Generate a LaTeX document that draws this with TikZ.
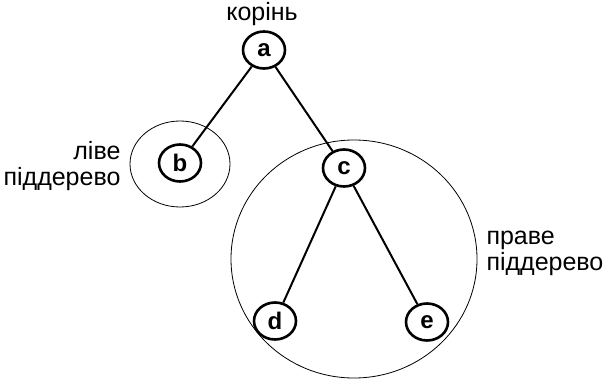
\documentclass[tikz,border=0pt]{standalone}
\usepackage{fontspec}
\setmainfont{Liberation Sans}
\usetikzlibrary{shapes.geometric}

\begin{document}
\begin{tikzpicture}[
  x=1pt, y=-1pt,
  font=\fontsize{25}{26}\selectfont,
  vertex/.style={ellipse, inner sep=0pt, minimum width=42pt, minimum height=37pt, draw=black, line width=2.6pt, font=\fontsize{24}{26}\selectfont\bfseries},
  edge/.style={line width=2pt},
  subtree/.style={draw=black, line width=0.8pt}
]
\useasboundingbox (0,0) rectangle (604,379);

% subtree outlines
\draw[subtree] (180,164) ellipse (50 and 43);
\draw[subtree] (354,259) ellipse (123 and 119);

\node[vertex] (a) at (264,50) {a};
\node[vertex] (b) at (180,163) {b};
\node[vertex] (c) at (344,168) {c};
\node[vertex] (d) at (275,321) {d};
\node[vertex] (e) at (427,322) {e};

\draw[edge] (a) -- (b);
\draw[edge] (a) -- (c);
\draw[edge] (c) -- (d);
\draw[edge] (c) -- (e);

\node (root) at (262,14) {корінь};
\node[anchor=east, align=right] (left) at (124,166) {ліве\\піддерево};
\node[anchor=west, align=left] (right) at (483,253) {праве\\піддерево};

\end{tikzpicture}
\end{document}
